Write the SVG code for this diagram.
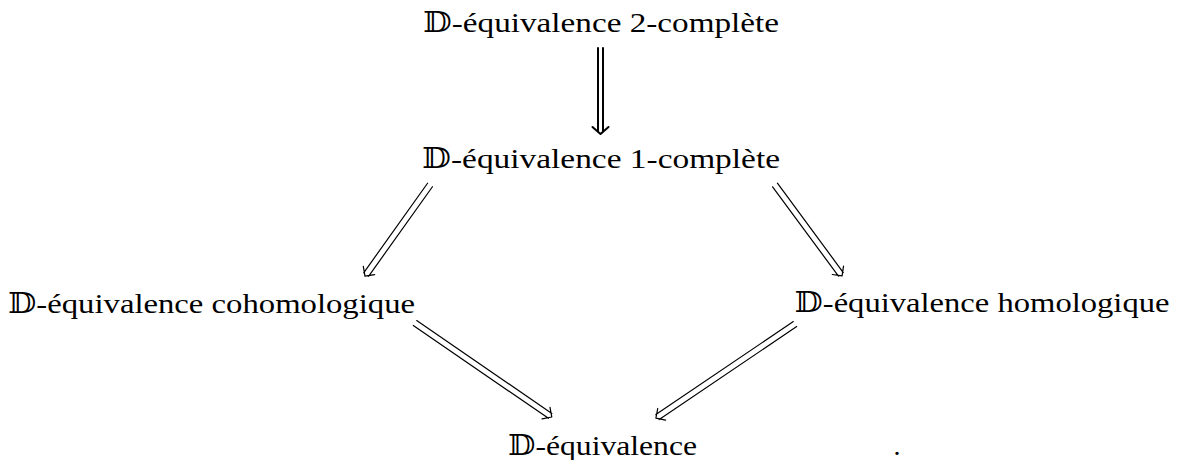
<svg xmlns="http://www.w3.org/2000/svg" width="1179" height="460" viewBox="0 0 1179 460">
<style>
.t{font-family:"Liberation Serif","DejaVu Serif",serif;font-size:28px;fill:#000;text-anchor:middle}
.a{fill:none;stroke:#000;stroke-width:1.2;stroke-linecap:round;stroke-linejoin:round}
</style>
<rect width="1179" height="460" fill="#fff"/>
<g id="n1"><text class="t" x="601" y="32" textLength="356" lengthAdjust="spacingAndGlyphs">𝔻-équivalence 2-complète</text></g>
<g id="n2"><text class="t" x="601" y="168" textLength="358" lengthAdjust="spacingAndGlyphs">𝔻-équivalence 1-complète</text></g>
<g id="n3"><text class="t" x="211.5" y="313" textLength="407" lengthAdjust="spacingAndGlyphs">𝔻-équivalence cohomologique</text></g>
<g id="n4"><text class="t" x="982" y="312" textLength="375" lengthAdjust="spacingAndGlyphs">𝔻-équivalence homologique</text></g>
<g id="n5"><text class="t" x="602.5" y="455" textLength="189" lengthAdjust="spacingAndGlyphs">𝔻-équivalence</text></g>
<text class="t" x="897" y="455">.</text>
<g id="connectors">
<g transform="translate(600.5,48) rotate(90)"><path class="a" d="M0,-2.5 H84 M0,2.5 H84 M79,-8 L86,0 L79,8" style="stroke-width:2"/></g>
<g transform="translate(430,185) rotate(125.5)"><path class="a" d="M0,-3 H110 M0,3 H110 M105,-7 L112,0 L105,7"/></g>
<g transform="translate(775,185) rotate(53.6)"><path class="a" d="M0,-3 H111 M0,3 H111 M106,-7 L113,0 L106,7"/></g>
<g transform="translate(415,323) rotate(34.5)"><path class="a" d="M0,-3 H164 M0,3 H164 M159,-7 L166,0 L159,7"/></g>
<g transform="translate(795,324) rotate(145.9)"><path class="a" d="M0,-3 H166 M0,3 H166 M161,-7 L168,0 L161,7"/></g>
</g>
</svg>
